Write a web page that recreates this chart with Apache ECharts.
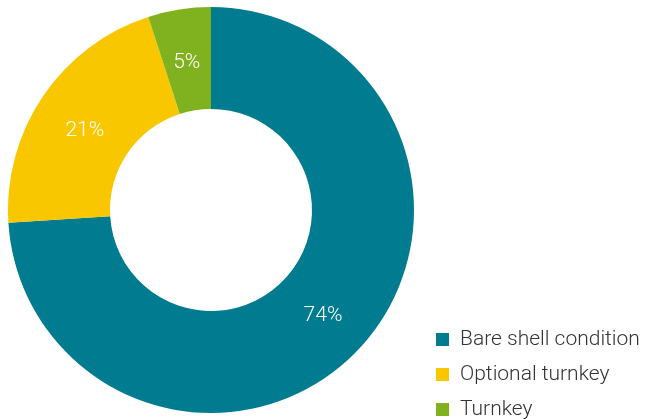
<!DOCTYPE html>
<html>
<head>
<meta charset="utf-8">
<script src="https://cdn.jsdelivr.net/npm/echarts@6/dist/echarts.min.js"></script>
<style>
  html, body { margin: 0; padding: 0; background: #ffffff; }
  #chart { width: 649px; height: 419px; }
</style>
</head>
<body>
<div id="chart"></div>
<script>
// Share of handover condition
const categories = ['Bare shell condition', 'Optional turnkey', 'Turnkey'];
const shares = [74, 21, 5];
const colors = ['#007B90', '#F8C700', '#80B21F'];
// Small nudges for the in-slice percentage labels
const labelNudges = [[-1, 0], [2, 8], [0, 6]];

const chart = echarts.init(document.getElementById('chart'), null, { renderer: 'canvas' });

chart.setOption({
  animation: false,
  color: colors,
  legend: {
    orient: 'vertical',
    left: 436,
    top: 328.5,
    width: 210,
    height: 120,
    padding: 0,
    icon: 'rect',
    itemWidth: 13,
    itemHeight: 13,
    itemGap: 13,
    textStyle: {
      fontFamily: 'Roboto',
      fontWeight: 300,
      fontSize: 21,
      lineHeight: 22,
      color: '#333333',
      padding: [0, 0, 0, 6]
    },
    data: categories
  },
  series: [{
    type: 'pie',
    center: [211, 210],
    radius: [101, 203],
    startAngle: 90,
    clockwise: true,
    avoidLabelOverlap: false,
    label: {
      show: true,
      position: 'inside',
      formatter: '{c}%',
      color: '#ffffff',
      fontFamily: 'Roboto',
      fontWeight: 300,
      fontSize: 21
    },
    labelLine: { show: false },
    emphasis: { disabled: true },
    itemStyle: { borderWidth: 0 },
    data: categories.map((name, i) => ({
      name: name,
      value: shares[i],
      label: { offset: labelNudges[i] }
    }))
  }]
});
</script>
</body>
</html>
